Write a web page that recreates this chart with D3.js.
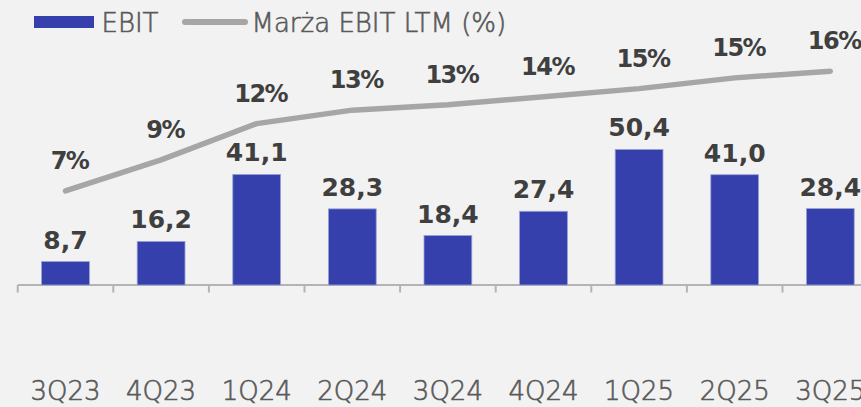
<!DOCTYPE html>
<html>
<head>
<meta charset="utf-8">
<script src="https://cdn.jsdelivr.net/npm/d3@7"></script>
<style>
    html, body { margin: 0; padding: 0; background: #f2f2f2; }
    svg { display: block; }
</style>
</head>
<body>
<div id="chart"></div>
<script>
var quarters = ['3Q23', '4Q23', '1Q24', '2Q24', '3Q24', '4Q24', '1Q25', '2Q25', '3Q25'];
var ebit = [8.7, 16.2, 41.1, 28.3, 18.4, 27.4, 50.4, 41.0, 28.4];
var marginLtm = [7.0, 9.3, 12.0, 13.0, 13.4, 14.0, 14.6, 15.4, 15.9];
var seriesNames = ['EBIT', 'Marża EBIT LTM (%)'];

var width = 861;
var height = 407;
var baseY = 285;
var topY = 16;
var blue = '#3540ac';
var grey = '#a6a6a6';
var lightFont = '"DejaVu Sans", sans-serif';
var boldFont = '"DejaVu Sans", sans-serif';

var svg = d3.select('#chart')
    .append('svg')
    .attr('width', width)
    .attr('height', height);

svg.append('rect')
    .attr('width', width)
    .attr('height', height)
    .attr('fill', '#f2f2f2');

var x = d3.scaleBand()
    .domain(quarters)
    .range([17.7, 17.7 + 95.6 * quarters.length])
    .paddingInner(0.5)
    .paddingOuter(0.25);

var y = d3.scaleLinear().domain([0, 100]).range([baseY, topY]);
var y2 = d3.scaleLinear().domain([0, 20]).range([baseY, topY]);

// thin grey text used by legend and category labels
function lightText(sel) {
    sel.attr('font-family', lightFont)
        .attr('font-weight', 300)
        .attr('font-size', 26)
        .attr('fill', '#595959')
        .attr('stroke', '#595959')
        .attr('stroke-width', 0.6);
}

// category axis: line, ticks between bands, labels at bottom
var axis = svg.append('g');
axis.append('line')
    .attr('x1', x.range()[0])
    .attr('x2', x.range()[1])
    .attr('y1', baseY)
    .attr('y2', baseY)
    .attr('stroke', '#b4b4b4')
    .attr('stroke-width', 2);

axis.selectAll('.tick')
    .data(quarters)
    .enter()
    .append('line')
    .attr('class', 'tick')
    .attr('x1', function(d) { return x(d) - x.step() * 0.25; })
    .attr('x2', function(d) { return x(d) - x.step() * 0.25; })
    .attr('y1', baseY)
    .attr('y2', baseY + 7.5)
    .attr('stroke', '#b4b4b4')
    .attr('stroke-width', 2);

axis.selectAll('.cat')
    .data(quarters)
    .enter()
    .append('text')
    .attr('class', 'cat')
    .attr('x', function(d) { return x(d) + x.bandwidth() / 2; })
    .attr('y', 400)
    .attr('text-anchor', 'middle')
    .call(lightText)
    .text(function(d) { return d; });

// bars
svg.selectAll('.bar')
    .data(ebit)
    .enter()
    .append('rect')
    .attr('class', 'bar')
    .attr('x', function(d, i) { return x(quarters[i]); })
    .attr('y', function(d) { return y(d); })
    .attr('width', x.bandwidth())
    .attr('height', function(d) { return baseY - y(d); })
    .attr('fill', blue)
    .attr('stroke', '#9aa0d6')
    .attr('stroke-width', 0.8);

svg.selectAll('.barlabel')
    .data(ebit)
    .enter()
    .append('text')
    .attr('class', 'barlabel')
    .attr('x', function(d, i) { return x(quarters[i]) + x.bandwidth() / 2; })
    .attr('y', function(d) { return y(d) - 13; })
    .attr('text-anchor', 'middle')
    .attr('font-family', boldFont)
    .attr('font-weight', 'bold')
    .attr('font-size', 25)
    .attr('fill', '#3f3f3f')
    .text(function(d) { return d.toFixed(1).replace('.', ','); });

// margin line
var line = d3.line()
    .x(function(d, i) { return x(quarters[i]) + x.bandwidth() / 2; })
    .y(function(d) { return y2(d); });

svg.append('path')
    .datum(marginLtm)
    .attr('d', line)
    .attr('fill', 'none')
    .attr('stroke', grey)
    .attr('stroke-width', 5.5)
    .attr('stroke-linecap', 'round')
    .attr('stroke-linejoin', 'round');

svg.selectAll('.pctlabel')
    .data(marginLtm)
    .enter()
    .append('text')
    .attr('class', 'pctlabel')
    .attr('x', function(d, i) { return x(quarters[i]) + x.bandwidth() / 2 + 4; })
    .attr('y', function(d) { return y2(d) - 22; })
    .attr('text-anchor', 'middle')
    .attr('font-family', boldFont)
    .attr('font-weight', 'bold')
    .attr('font-size', 24)
    .attr('letter-spacing', -1.5)
    .attr('fill', '#3f3f3f')
    .text(function(d) { return Math.round(d) + '%'; });

// legend
var legend = svg.append('g');
legend.append('rect')
    .attr('x', 34)
    .attr('y', 16)
    .attr('width', 60)
    .attr('height', 12)
    .attr('fill', blue);
legend.append('text')
    .attr('x', 101.5)
    .attr('y', 32.3)
    .call(lightText)
    .text(seriesNames[0]);
legend.append('line')
    .attr('x1', 185)
    .attr('x2', 245)
    .attr('y1', 22)
    .attr('y2', 22)
    .attr('stroke', grey)
    .attr('stroke-width', 6)
    .attr('stroke-linecap', 'round');
legend.append('text')
    .attr('x', 251.5)
    .attr('y', 32.3)
    .call(lightText)
    .text(seriesNames[1]);

console.log('Done: chart');
</script>
</body>
</html>
